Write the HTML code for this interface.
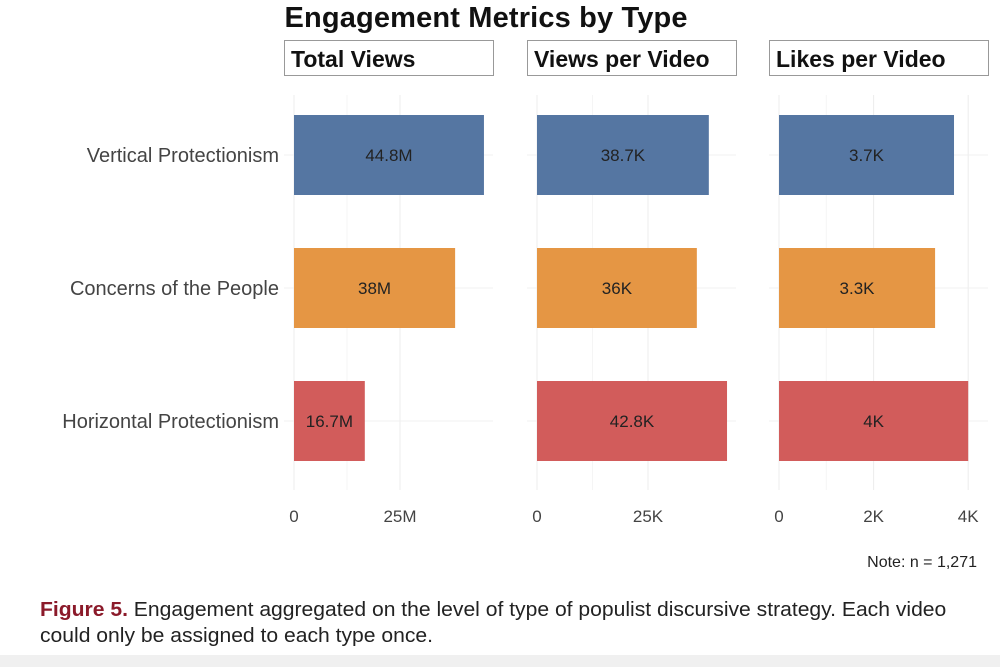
<!DOCTYPE html>
<html><head><meta charset="utf-8"><style>
html,body{margin:0;padding:0;background:#fff;width:1000px;height:667px;overflow:hidden;font-family:"Liberation Sans",sans-serif}
#cap{position:absolute;left:40px;top:597px;width:1000px;font-family:"Liberation Sans",sans-serif;font-size:20px;line-height:26px;color:#222;white-space:nowrap;transform:scaleX(1.055);transform-origin:left top}
#strip{position:absolute;left:0;top:655px;width:1000px;height:12px;background:#f0f0f0}
</style></head><body>
<svg id="chart" width="1000" height="667" style="position:absolute;left:0;top:0"></svg>
<div id="cap"><b style="color:#8b1a2a">Figure 5.</b> Engagement aggregated on the level of type of populist discursive strategy. Each video<br>could only be assigned to each type once.</div>
<div id="strip"></div>
<script>
const categories=["Vertical Protectionism","Concerns of the People","Horizontal Protectionism"];
const totalViews=[44.8,38,16.7];
const viewsPerVideo=[38.7,36,42.8];
const likesPerVideo=[3.7,3.3,4.0];
const totalLabels=["44.8M","38M","16.7M"];
const vpvLabels=["38.7K","36K","42.8K"];
const lpvLabels=["3.7K","3.3K","4K"];
const facetTitles=["Total Views","Views per Video","Likes per Video"];
const tickVals=[[0,25],[0,25],[0,2,4]];
const tickLabels=[["0","25M"],["0","25K"],["0","2K","4K"]];
const colors=["#5576a2","#e59644","#d25c5b"];
const NS="http://www.w3.org/2000/svg";
const svg=document.getElementById("chart");
function mk(t,a,p){const e=document.createElementNS(NS,t);for(const k in a)e.setAttribute(k,a[k]);(p||svg).appendChild(e);return e;}
const panels=[
 {x0:294,x1:493,ppu:4.24,vals:totalViews,labs:totalLabels,strip:[284,493]},
 {x0:537,x1:736,ppu:4.44,vals:viewsPerVideo,labs:vpvLabels,strip:[527,736]},
 {x0:779,x1:988,ppu:47.3,vals:likesPerVideo,labs:lpvLabels,strip:[769,988]}];
const rowY=i=>155+i*133;
const barH=80;
const t=mk("text",{x:486,y:27,"text-anchor":"middle","font-size":29,"font-weight":"bold",fill:"#111",textLength:403});
t.textContent="Engagement Metrics by Type";


categories.forEach((c,i)=>{
 const l=mk("text",{x:279,y:rowY(i)+7,"text-anchor":"end","font-size":20,fill:"#444"});
 l.textContent=c;
 
 
});
panels.forEach((p,pi)=>{
 const g=mk("g",{});
 
 
 const sx=v=>p.x0+v*p.ppu;
 tickVals[pi].forEach(v=>{mk("line",{x1:sx(v),x2:sx(v),y1:95,y2:490,stroke:"#ececec","stroke-width":1},g);});
 const mid=(tickVals[pi][0]+tickVals[pi][1])/2;
 mk("line",{x1:sx(mid),x2:sx(mid),y1:95,y2:490,stroke:"#f5f5f5","stroke-width":1},g);
 categories.forEach((c,i)=>mk("line",{x1:p.x0-10,x2:p.x1,y1:rowY(i),y2:rowY(i),stroke:"#f0f0f0"},g));
 const r=mk("rect",{x:p.strip[0]+0.5,y:40.5,width:p.strip[1]-p.strip[0],height:35,fill:"#fff",stroke:"#999"},g);
 
 
 const st=mk("text",{x:p.strip[0]+7,y:67,"font-size":23,"font-weight":"bold",fill:"#111"},g);
 st.textContent=facetTitles[pi];
 
 
 p.vals.forEach((v,i)=>{
  const b=mk("rect",{x:sx(0),y:rowY(i)-barH/2,width:sx(v)-sx(0),height:barH,fill:colors[i]},g);
  
  
  const lt=mk("text",{x:(sx(0)+sx(v))/2,y:rowY(i)+6,"text-anchor":"middle","font-size":17,fill:"#222"},g);
  lt.textContent=p.labs[i];
  
  
 });
 tickVals[pi].forEach((v,k)=>{
  const tt=mk("text",{x:sx(v),y:522,"text-anchor":"middle","font-size":17,fill:"#444"},g);
  tt.textContent=tickLabels[pi][k];
  
  
 });
});
const n=mk("text",{x:977,y:567,"text-anchor":"end","font-size":16,fill:"#222"});
n.textContent="Note: n = 1,271";


</script>
</body></html>
